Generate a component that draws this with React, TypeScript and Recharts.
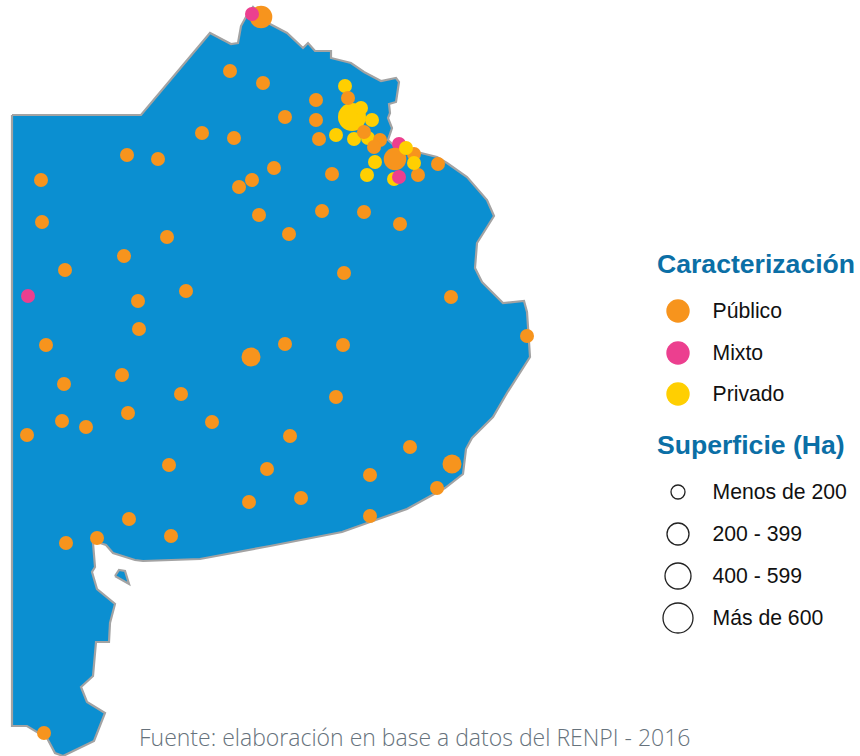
import React from "react";
import { ScatterChart, Scatter, XAxis, YAxis } from "recharts";

const WIDTH = 860;
const HEIGHT = 756;

const outline: [number, number][] = [
  [12, 115], [141, 115], [210, 33], [231, 44], [238, 43], [241, 26], [247, 15], [253, 7],
  [270, 24], [287, 33], [303, 48], [308, 43], [315, 51], [331, 51], [331, 58], [351, 63],
  [364, 72], [381, 81], [396, 78], [399, 82], [396, 102], [389, 104], [390, 113], [388, 118],
  [392, 128], [388, 140], [397, 148], [417, 152], [437, 157], [447, 163], [467, 177], [487, 200],
  [494, 216], [477, 243], [475, 268], [482, 282], [503, 303], [524, 301], [527, 312], [530, 357],
  [507, 393], [493, 417], [472, 438], [466, 449], [463, 474], [445, 488], [407, 509], [370, 522],
  [342, 532], [270, 546], [200, 559], [143, 561], [135, 560], [113, 553], [106, 545], [100, 543],
  [93, 543], [95, 567], [92, 572], [97, 589], [115, 604], [110, 623], [109, 642], [96, 642],
  [93, 676], [81, 687], [87, 702], [105, 713], [94, 741], [63, 756], [55, 753], [47, 738],
  [27, 726], [12, 726], [12, 115],
];
const island: [number, number][] = [[115, 576], [119, 570], [125, 571], [129, 584], [115, 576]];

// Parks: x, y, surface class in hectares.
const mixtoBajo: [number, number, number][] = [[399, 144, 100]];
const privadoBajo: [number, number, number][] = [
  [352, 117, 700], [345, 86, 100], [361, 108, 100], [372, 120, 100], [336, 135, 100],
  [354, 139, 100], [368, 138, 100], [367, 175, 100], [394, 179, 100],
];
const publico: [number, number, number][] = [
  [261, 17, 500], [230, 71, 100], [263, 83, 100], [348, 98, 100], [316, 100, 100], [285, 117, 100],
  [316, 120, 100], [202, 133, 100], [234, 138, 100], [319, 139, 100], [364, 132, 100], [380, 140, 100],
  [374, 147, 100], [127, 155, 100], [158, 159, 100], [414, 154, 100], [438, 164, 100], [395, 159, 500],
  [274, 168, 100], [332, 174, 100], [418, 175, 100], [252, 180, 100], [239, 187, 100], [41, 180, 100],
  [259, 215, 100], [322, 211, 100], [364, 212, 100], [400, 224, 100], [42, 222, 100], [289, 234, 100],
  [167, 237, 100], [124, 256, 100], [65, 270, 100], [344, 273, 100], [186, 291, 100], [138, 301, 100],
  [451, 297, 100], [139, 329, 100], [527, 336, 100], [46, 345, 100], [285, 344, 100], [343, 345, 100],
  [251, 357, 300], [122, 375, 100], [64, 384, 100], [181, 394, 100], [336, 397, 100], [128, 413, 100],
  [62, 421, 100], [86, 427, 100], [212, 422, 100], [27, 435, 100], [290, 436, 100], [410, 447, 100],
  [169, 465, 100], [267, 469, 100], [370, 475, 100], [452, 464, 300], [437, 488, 100], [249, 502, 100],
  [301, 498, 100], [129, 519, 100], [370, 516, 100], [171, 536, 100], [66, 543, 100], [97, 538, 100],
  [44, 733, 100],
];
const privadoAlto: [number, number, number][] = [[406, 148, 100], [375, 162, 100], [414, 163, 100]];
const mixto: [number, number, number][] = [[252, 14, 100], [28, 296, 100], [399, 177, 100]];

const tipos = ["Público", "Mixto", "Privado"];
const superficies = ["Menos de 200", "200 - 399", "400 - 599", "Más de 600"];

const ORANGE = "#f7941d";
const PINK = "#ec3f8f";
const YELLOW = "#ffcf01";
const tipoColors = [ORANGE, PINK, YELLOW];
const radiusByHa: Record<number, number> = { 100: 7, 300: 9.5, 500: 11.3, 700: 14 };
const legendRadius = [7, 11, 13, 15];

const rows = (list: number[][]) => list.map(([x, y, ha]) => ({ x, y, ha }));

const Park = (props: any) => (
  <circle cx={props.cx} cy={props.cy} r={radiusByHa[props.payload.ha]} fill={props.fill} />
);
const NoMark = () => <g />;

const landLine = { fill: "#0b8fd1", stroke: "#a3a3a3", strokeWidth: 2.2 };

const Title = ({ top, children }: { top: number; children: React.ReactNode }) => (
  <div style={{ position: "absolute", left: 657, top, fontFamily: "Liberation Sans", fontWeight: 700, fontSize: 26.6, lineHeight: "30px", color: "#0b6fa6", whiteSpace: "nowrap" }}>
    {children}
  </div>
);

const Row = ({ top, label, r, fill }: { top: number; label: string; r: number; fill?: string }) => (
  <>
    <svg style={{ position: "absolute", left: 658, top: top - 20 }} width={40} height={40}>
      <circle cx={20} cy={20} r={r} fill={fill || "#fff"} stroke={fill ? "none" : "#222"} strokeWidth={1.3} />
    </svg>
    <div style={{ position: "absolute", left: 712.5, top: top - 12, fontFamily: "Liberation Sans", fontSize: 21.2, lineHeight: "24px", color: "#111", whiteSpace: "nowrap" }}>
      {label}
    </div>
  </>
);

export default function App() {
  return (
    <div style={{ position: "absolute", left: 0, top: 0, width: WIDTH, height: HEIGHT, background: "#fff", overflow: "hidden" }}>
      <ScatterChart width={WIDTH} height={HEIGHT} margin={{ top: 0, right: 0, bottom: 0, left: 0 }}>
        <XAxis type="number" dataKey="x" domain={[0, WIDTH]} hide />
        <YAxis type="number" dataKey="y" domain={[0, HEIGHT]} reversed hide />
        <Scatter data={outline.map(([x, y]) => ({ x, y }))} line={landLine} shape={NoMark} isAnimationActive={false} />
        <Scatter data={island.map(([x, y]) => ({ x, y }))} line={landLine} shape={NoMark} isAnimationActive={false} />
        <Scatter data={rows(mixtoBajo)} fill={PINK} shape={Park} isAnimationActive={false} />
        <Scatter data={rows(privadoBajo)} fill={YELLOW} shape={Park} isAnimationActive={false} />
        <Scatter data={rows(publico)} fill={ORANGE} shape={Park} isAnimationActive={false} />
        <Scatter data={rows(privadoAlto)} fill={YELLOW} shape={Park} isAnimationActive={false} />
        <Scatter data={rows(mixto)} fill={PINK} shape={Park} isAnimationActive={false} />
      </ScatterChart>

      <Title top={249}>Caracterización</Title>
      {tipos.map((t, i) => (
        <Row key={t} top={311 + i * 41.5} label={t} r={11.7} fill={tipoColors[i]} />
      ))}
      <Title top={430}>Superficie (Ha)</Title>
      {superficies.map((s, i) => (
        <Row key={s} top={492 + i * 42} label={s} r={legendRadius[i]} />
      ))}
      <div style={{ position: "absolute", left: 139, top: 723, fontFamily: "Open Sans", fontWeight: 300, fontSize: 23, lineHeight: "28px", color: "#66727c", whiteSpace: "nowrap" }}>
        Fuente: elaboración en base a datos del RENPI - 2016
      </div>
    </div>
  );
}
